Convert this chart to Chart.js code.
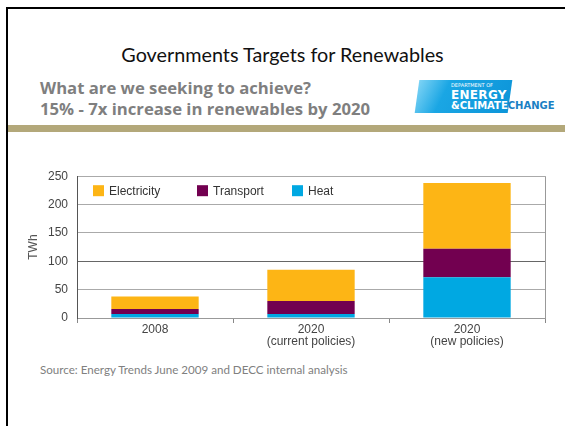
<!DOCTYPE html>
<html>
<head>
<meta charset="utf-8">
<script src="https://cdn.jsdelivr.net/npm/chart.js@4.4.1/dist/chart.umd.min.js"></script>
<style>
    html, body { margin: 0; padding: 0; background: #fff; }
    body { width: 565px; height: 426px; position: relative; overflow: hidden; }
    .frame { position: absolute; left: 6px; top: 7px; right: -10px; bottom: -10px; border-left: 2px solid #000; border-top: 2px solid #000; }
    .title { position: absolute; left: 0; width: 565px; top: 42px; text-align: center; font-family: Lato, sans-serif; font-size: 19.8px; color: #111; }
    .sub { position: absolute; left: 40px; top: 77px; font-family: "Open Sans", sans-serif; font-weight: bold; font-size: 16.7px; line-height: 21px; color: #7f7f7f; }
    .band { position: absolute; left: 8px; right: 0; top: 125px; height: 7px; background: #b3a87a; }
    .logo { position: absolute; left: 417px; top: 80px; width: 93px; height: 33px; background: linear-gradient(110deg, #7dd3f5 0%, #1aa6e4 30%, #0d95d9 100%); transform: skewX(-8deg); }
    .logo-text { position: absolute; left: 451px; top: 83px; font-family: "DejaVu Sans", sans-serif; font-weight: bold; color: #fff; line-height: 1; }
    .logo-text .small { font-size: 5px; font-weight: normal; }
    .logo-text .big { font-size: 12px; letter-spacing: 0.3px; margin-top: 1px; }
    .logo-text .mid { font-size: 10px; }
    .logo-text .mid span { color: #1a80c4; }
    .source { position: absolute; left: 40px; top: 363px; font-family: Lato, sans-serif; font-size: 11.6px; color: #808080; }
    #chartBox { position: absolute; left: 15px; top: 160px; width: 540px; height: 190px; }
</style>
</head>
<body>
<div class="frame"></div>
<div class="title">Governments Targets for Renewables</div>
<div class="sub">What are we seeking to achieve?<br>15% - 7x increase in renewables by 2020</div>
<div class="logo"></div>
<div class="logo-text">
    <div class="small">DEPARTMENT OF</div>
    <div class="big">ENERGY</div>
    <div class="mid">&amp;CLIMATE<span>CHANGE</span></div>
</div>
<div class="band"></div>
<div id="chartBox"><canvas id="chart"></canvas></div>
<div class="source">Source: Energy Trends June 2009 and DECC internal analysis</div>

<script>
// Data (TWh)
const categories = [['2008'], ['2020', '(current policies)'], ['2020', '(new policies)']];
const heat = [7, 7, 72];
const transport = [9, 23, 50];
const electricity = [22, 55, 116];
const yTicks = [0, 50, 100, 150, 200, 250];

const seriesNames = ['Electricity', 'Transport', 'Heat'];
const seriesColors = ['#fdb515', '#720050', '#00a8e2'];

// Legend drawn inside the plot, along the top
const insideLegend = {
    id: 'insideLegend',
    afterDraw(chart) {
        const ctx = chart.ctx;
        const area = chart.chartArea;
        const offsets = [16, 120, 215];
        const y = area.top + 15;
        ctx.save();
        ctx.font = '12px "Liberation Sans", Arial, sans-serif';
        ctx.textBaseline = 'middle';
        seriesNames.forEach((name, i) => {
            const x = area.left + offsets[i];
            ctx.fillStyle = seriesColors[i];
            ctx.fillRect(x, y - 6, 11, 11);
            ctx.fillStyle = '#333';
            ctx.fillText(name, x + 16, y);
        });
        // right edge of the frame
        ctx.strokeStyle = '#999';
        ctx.lineWidth = 1;
        ctx.beginPath();
        ctx.moveTo(area.right + 0.5, area.top);
        ctx.lineTo(area.right + 0.5, area.bottom);
        ctx.stroke();
        ctx.restore();
    }
};

new Chart(document.getElementById('chart').getContext('2d'), {
    type: 'bar',
    data: {
        labels: categories,
        datasets: [
            { label: 'Heat', data: heat, backgroundColor: seriesColors[2] },
            { label: 'Transport', data: transport, backgroundColor: seriesColors[1] },
            { label: 'Electricity', data: electricity, backgroundColor: seriesColors[0] }
        ]
    },
    options: {
        responsive: true,
        maintainAspectRatio: false,
        animation: false,
        layout: { padding: { top: 15, right: 10, left: 0, bottom: 0 } },
        datasets: { bar: { categoryPercentage: 1, barPercentage: 0.56, borderWidth: 0 } },
        plugins: {
            legend: { display: false },
            tooltip: { enabled: false }
        },
        scales: {
            x: {
                stacked: true,
                grid: { offset: true, drawOnChartArea: false, drawTicks: true, tickLength: 5, color: '#888' },
                border: { color: '#999' },
                ticks: {
                    color: '#444',
                    padding: 1,
                    font: { family: '"Liberation Sans", Arial, sans-serif', size: 12, lineHeight: 1.0 }
                },
                afterFit(scale) { scale.height = 32; }
            },
            y: {
                stacked: true,
                min: 0,
                max: 250,
                afterBuildTicks(scale) { scale.ticks = yTicks.map(v => ({ value: v })); },
                grid: {
                    drawTicks: false,
                    color: ctx => (ctx.tick && ctx.tick.value === 100 ? '#666' : '#aaa')
                },
                border: { color: '#555' },
                ticks: {
                    color: '#444',
                    padding: 9,
                    font: { family: '"Liberation Sans", Arial, sans-serif', size: 12 }
                },
                title: {
                    display: true,
                    text: 'TWh',
                    color: '#555',
                    padding: { top: 11, bottom: 0 },
                    font: { family: '"Liberation Sans", Arial, sans-serif', size: 12 }
                },
                afterFit(scale) { scale.width = 62; }
            }
        }
    },
    plugins: [insideLegend]
});
</script>
</body>
</html>
